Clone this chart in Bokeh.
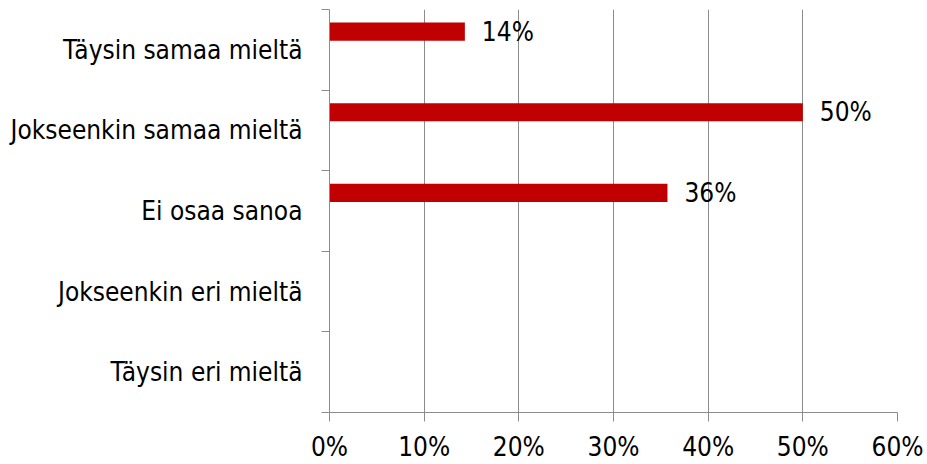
from bokeh.plotting import figure
from bokeh.models import FixedTicker, NumeralTickFormatter, ColumnDataSource, Range1d
from bokeh.core.properties import value
from bokeh.embed import file_html
from bokeh.resources import INLINE

# data (top to bottom as shown)
categories = ["Täysin samaa mieltä", "Jokseenkin samaa mieltä", "Ei osaa sanoa",
              "Jokseenkin eri mieltä", "Täysin eri mieltä"]
shares = [0.143, 0.50, 0.357, 0.0, 0.0]
x_ticks = [0.0, 0.1, 0.2, 0.3, 0.4, 0.5, 0.6]

FONT = "DejaVu Sans Condensed"
FS = "26px"
BAR_COLOR = "#C00000"
GRID = "#8C8C8C"

n = len(categories)
centers = [n - 1 - i + 0.5 for i in range(n)]
bar_offset = 0.225
bar_h = 0.225

src = ColumnDataSource(dict(
    y=[c + bar_offset for c in centers],
    right=shares,
    label=[f"{round(v * 100)}%" if v > 0 else "" for v in shares],
))

p = figure(width=927, height=464, output_backend="svg", toolbar_location=None,
           x_range=Range1d(0, 0.6), y_range=Range1d(0, n),
           min_border_left=329, min_border_right=30, min_border_top=9, min_border_bottom=52)
p.outline_line_color = None
p.background_fill_color = "white"
p.border_fill_color = "white"

p.hbar(y="y", left=0, right="right", height=bar_h, source=src,
       fill_color=BAR_COLOR, line_color=None)
p.text(x="right", y="y", text="label", source=src, x_offset=17,
       text_baseline="middle", text_align="left",
       text_font=value(FONT), text_font_size=FS, text_color="black")

# x axis
xa = p.xaxis[0]
xa.ticker = FixedTicker(ticks=x_ticks)
xa.formatter = NumeralTickFormatter(format="0%")
xa.axis_line_color = GRID
xa.major_tick_line_color = GRID
xa.major_tick_out = 9
xa.major_tick_in = 0
xa.minor_tick_line_color = None
xa.major_label_standoff = 10
xa.major_label_text_font = FONT
xa.major_label_text_font_size = FS
xa.major_label_text_color = "black"

# y axis
ya = p.yaxis[0]
ya.ticker = FixedTicker(ticks=centers, minor_ticks=list(range(n + 1)))
ya.major_label_overrides = {c: categories[i] for i, c in enumerate(centers)}
ya.axis_line_color = GRID
ya.major_tick_line_color = None
ya.major_tick_out = 0
ya.major_tick_in = 0
ya.minor_tick_line_color = GRID
ya.minor_tick_out = 8
ya.minor_tick_in = 0
ya.major_label_standoff = 19
ya.major_label_text_font = FONT
ya.major_label_text_font_size = FS
ya.major_label_text_color = "black"

p.xgrid.ticker = FixedTicker(ticks=x_ticks)
p.xgrid.grid_line_color = GRID
p.ygrid.grid_line_color = None

open("out.html", "w").write(file_html(p, INLINE))
